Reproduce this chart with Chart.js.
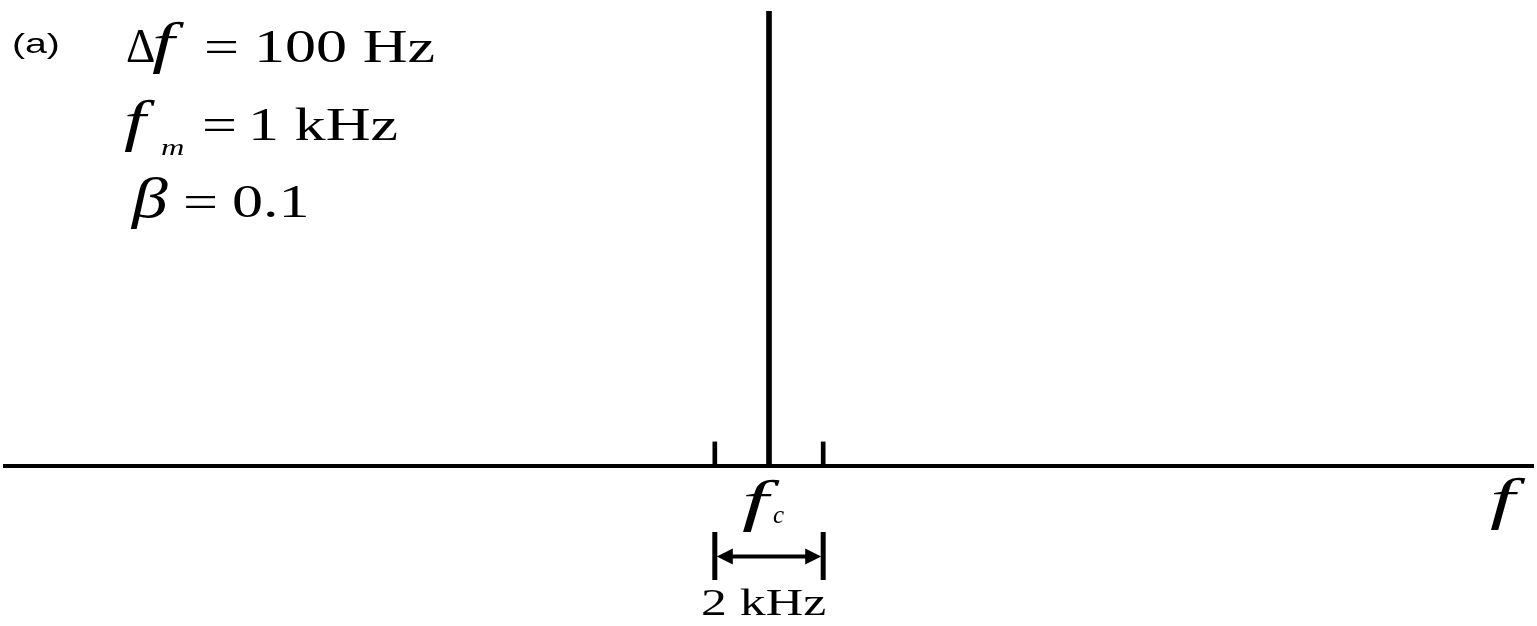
<!DOCTYPE html>
<html>
<head>
<meta charset="utf-8">
<script src="https://cdn.jsdelivr.net/npm/chart.js@4/dist/chart.umd.min.js"></script>
<style>
  html, body { margin: 0; padding: 0; background: #fff; }
  #wrap { width: 1537px; height: 626px; position: relative; }
</style>
</head>
<body>
<div id="wrap"><canvas id="spectrum"></canvas></div>
<script>
// offsets from the carrier in kHz, and relative line amplitudes
const carrierFreqs = [0];
const carrierAmps = [1];
const sidebandFreqs = [-1, 1];
const sidebandAmps = [0.053, 0.053];

const spanLabel = '2 kHz';

const SERIF = '"Liberation Serif", "Times New Roman", serif';
const SANS = '"Liberation Sans", Arial, sans-serif';
const SX = 1.35; // glyphs are drawn a bit wide

const toPoints = (xs, ys) => xs.map((x, i) => ({ x: x, y: ys[i] }));

function txt(ctx, s, x, y, size, italic, sx, font) {
  ctx.save();
  ctx.translate(x, y);
  ctx.scale(sx || SX, 1);
  ctx.font = (italic ? 'italic ' : '') + size + 'px ' + (font || SERIF);
  ctx.fillStyle = '#000';
  ctx.textBaseline = 'alphabetic';
  ctx.fillText(s, 0, 0);
  ctx.restore();
}

const labels = {
  id: 'labels',
  afterDraw(chart) {
    const ctx = chart.ctx;
    const x = chart.scales.x;

    txt(ctx, '(a)', 12, 53, 28, false, 1.4, SANS);

    // Δf = 100 Hz
    txt(ctx, '\u0394', 126, 62, 48, false, 0.95);
    txt(ctx, 'f', 152, 62, 56, true, 1.45);
    txt(ctx, '=', 204, 62, 46, false);
    txt(ctx, '100 Hz', 254, 62, 46, false);

    // fm = 1 kHz
    txt(ctx, 'f', 124, 140, 56, true, 1.4);
    txt(ctx, 'm', 161, 155, 24, true);
    txt(ctx, '=', 202, 140, 46, false);
    txt(ctx, '1 kHz', 248, 140, 46, false);

    // β = 0.1
    txt(ctx, '\u03b2', 132, 217, 56, true, 1.28);
    txt(ctx, '=', 183, 217, 46, false);
    txt(ctx, '0.1', 232, 217, 46, false);

    // axis labels
    const xc = x.getPixelForValue(0);
    txt(ctx, 'f', xc - 27, 520, 56, true, 1.7);
    txt(ctx, 'c', xc + 4, 523, 25, true, 1.0);
    txt(ctx, 'f', 1490, 518, 56, true, 1.6);

    // 2 kHz span marker between the sidebands
    const xl = x.getPixelForValue(sidebandFreqs[0]);
    const xr = x.getPixelForValue(sidebandFreqs[1]);
    ctx.save();
    ctx.strokeStyle = '#000';
    ctx.fillStyle = '#000';
    ctx.lineWidth = 5;
    ctx.beginPath();
    ctx.moveTo(xl, 532); ctx.lineTo(xl, 580);
    ctx.moveTo(xr, 532); ctx.lineTo(xr, 580);
    ctx.stroke();
    ctx.lineWidth = 4;
    ctx.beginPath();
    ctx.moveTo(xl + 12, 556.5); ctx.lineTo(xr - 12, 556.5);
    ctx.stroke();
    ctx.beginPath();
    ctx.moveTo(xl + 2, 556.5); ctx.lineTo(xl + 18, 548.5); ctx.lineTo(xl + 18, 564.5); ctx.closePath();
    ctx.moveTo(xr - 2, 556.5); ctx.lineTo(xr - 18, 548.5); ctx.lineTo(xr - 18, 564.5); ctx.closePath();
    ctx.fill();
    ctx.restore();
    txt(ctx, spanLabel, 701, 615, 37, false, 1.4);
  }
};

new Chart(document.getElementById('spectrum'), {
  type: 'bar',
  data: {
    datasets: [
      {
        data: toPoints(carrierFreqs, carrierAmps),
        backgroundColor: '#000',
        barThickness: 5,
        grouped: false
      },
      {
        data: toPoints(sidebandFreqs, sidebandAmps),
        backgroundColor: '#000',
        barThickness: 4,
        grouped: false
      }
    ]
  },
  options: {
    responsive: true,
    maintainAspectRatio: false,
    animation: false,
    layout: { padding: { left: 5, right: 4, top: 11, bottom: 160 } },
    plugins: { legend: { display: false }, tooltip: { enabled: false } },
    scales: {
      x: {
        type: 'linear',
        min: -14.1,
        max: 14.1,
        offset: false,
        grid: { display: false },
        ticks: { display: false },
        border: { display: true, width: 4, color: '#000' },
        afterFit: (s) => { s.height = 0; }
      },
      y: {
        display: false,
        min: 0,
        max: 1
      }
    }
  },
  plugins: [labels]
});
</script>
</body>
</html>
